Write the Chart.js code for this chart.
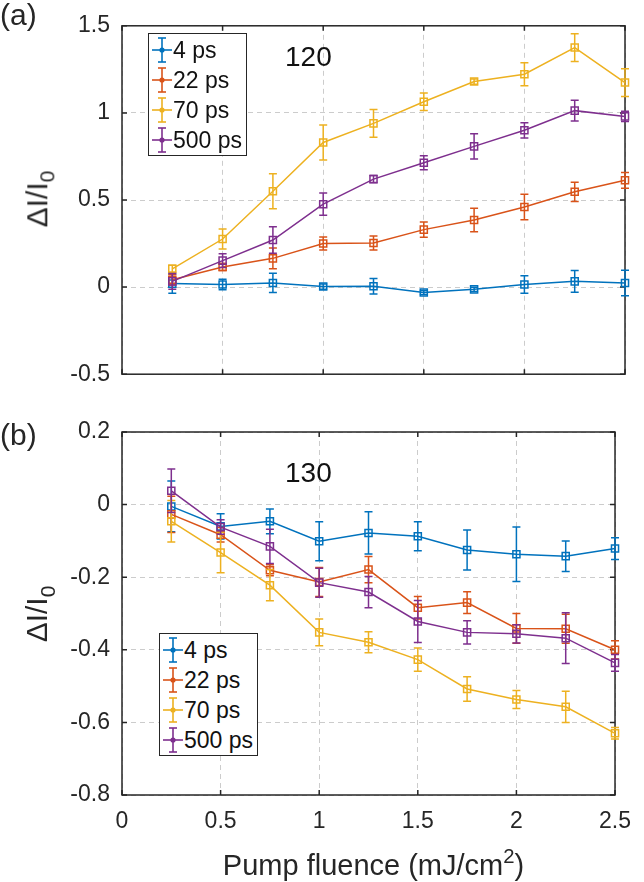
<!DOCTYPE html>
<html>
<head>
<meta charset="utf-8">
<script src="https://cdn.jsdelivr.net/npm/chart.js@4.4.0/dist/chart.umd.min.js"></script>
<style>
    body { margin: 0; width: 644px; height: 882px; position: relative; overflow: hidden; background: #fff;
           font-family: "Liberation Sans", Arial, sans-serif; color: #262626; }
    canvas { position: absolute; left: 0; }
    #chartA { top: 0; }
    #chartB { top: 400px; }
    .txt { position: absolute; white-space: nowrap; line-height: 1; }
    .panel { font-size: 30px; left: 0; }
    .temp { font-size: 28px; left: 285px; color: #111; }
    .ylabel { font-size: 30px; transform: translate(-50%, -50%) rotate(-90deg); }
    .ylabel sub { font-size: 0.7em; vertical-align: -0.35em; }
    .xlabel { font-size: 29px; left: 122px; width: 503px; text-align: center; top: 846px; }
    .xlabel sup { font-size: 0.7em; vertical-align: 0.6em; }
    .legend { position: absolute; background: #fff; border: 1.5px solid #262626; padding: 1px 4px 0 2px; }
    .legend .row { height: 30px; display: flex; align-items: center; font-size: 23px; color: #111; }
    .legend svg { flex: none; }
</style>
</head>
<body>
<canvas id="chartA" width="644" height="400"></canvas>
<canvas id="chartB" width="644" height="482"></canvas>

<div class="txt panel" style="top:0px">(a)</div>
<div class="txt panel" style="top:420px">(b)</div>
<div class="txt temp" style="top:43px">120</div>
<div class="txt temp" style="top:459px">130</div>
<div class="txt ylabel" style="left:40px; top:199px">ΔI/I<sub>0</sub></div>
<div class="txt ylabel" style="left:40px; top:614px">ΔI/I<sub>0</sub></div>
<div class="txt xlabel">Pump fluence (mJ/cm<sup>2</sup>)</div>
<div class="legend" id="legendA" style="left:148px; top:33px"></div>
<div class="legend" id="legendB" style="left:159px; top:633px"></div>

<script>
// ============================================
// DATA
// ============================================

// Pump fluence (mJ/cm^2), same for every series
const fluence = [0.25, 0.5, 0.75, 1, 1.25, 1.5, 1.75, 2, 2.25, 2.5];

const seriesLabels = ['4 ps', '22 ps', '70 ps', '500 ps'];
const seriesColors = ['#0072BD', '#D95319', '#EDB120', '#7E2F8E'];

// Axis ticks
const xTicks = [0, 0.5, 1, 1.5, 2, 2.5];
const yTicksA = [-0.5, 0, 0.5, 1, 1.5];
const yTicksB = [-0.8, -0.6, -0.4, -0.2, 0, 0.2];

// Panel (a) - 120
const a4ps      = [0.02, 0.015, 0.024, 0.003, 0.005, -0.031, -0.013, 0.015, 0.033, 0.024];
const a4psErr   = [0.055, 0.03, 0.055, 0.015, 0.045, 0.012, 0.012, 0.05, 0.062, 0.073];
const a22ps     = [0.042, 0.115, 0.165, 0.25, 0.253, 0.33, 0.385, 0.46, 0.547, 0.613];
const a22psErr  = [0.03, 0.02, 0.06, 0.037, 0.04, 0.044, 0.067, 0.073, 0.055, 0.045];
const a70ps     = [0.105, 0.276, 0.55, 0.83, 0.94, 1.064, 1.18, 1.222, 1.375, 1.174];
const a70psErr  = [0.02, 0.057, 0.1, 0.1, 0.08, 0.05, 0.015, 0.066, 0.08, 0.08];
const a500ps    = [0.033, 0.152, 0.27, 0.476, 0.62, 0.714, 0.808, 0.9, 1.013, 0.98];
const a500psErr = [0.045, 0.04, 0.076, 0.064, 0.02, 0.04, 0.073, 0.044, 0.06, 0.03];

// Panel (b) - 130
const b4ps      = [-0.005, -0.06, -0.046, -0.101, -0.078, -0.087, -0.125, -0.137, -0.142, -0.121];
const b4psErr   = [0.07, 0.035, 0.034, 0.054, 0.058, 0.04, 0.055, 0.075, 0.042, 0.03];
const b22ps     = [-0.027, -0.083, -0.181, -0.213, -0.179, -0.284, -0.27, -0.341, -0.342, -0.4];
const b22psErr  = [0.05, 0.02, 0.015, 0.04, 0.036, 0.031, 0.03, 0.041, 0.04, 0.025];
const b70ps     = [-0.046, -0.132, -0.222, -0.352, -0.379, -0.427, -0.508, -0.537, -0.557, -0.63];
const b70psErr  = [0.057, 0.056, 0.043, 0.037, 0.029, 0.032, 0.034, 0.025, 0.043, 0.016];
const b500ps    = [0.038, -0.062, -0.115, -0.215, -0.241, -0.322, -0.352, -0.356, -0.368, -0.436];
const b500psErr = [0.06, 0.02, 0.047, 0.04, 0.043, 0.058, 0.032, 0.025, 0.07, 0.023];

// ============================================
// PLUGINS
// ============================================

// Vertical error bars with caps, drawn right after each dataset
const errorBarPlugin = {
    id: 'errorBars',
    afterDatasetDraw(chart, args) {
        const ds = chart.data.datasets[args.index];
        if (!ds.errors) return;
        const ctx = chart.ctx;
        const yScale = chart.scales.y;
        ctx.save();
        ctx.strokeStyle = ds.borderColor;
        ctx.lineWidth = 1.5;
        args.meta.data.forEach((pt, i) => {
            const v = ds.data[i].y;
            const e = ds.errors[i];
            const top = yScale.getPixelForValue(v + e);
            const bot = yScale.getPixelForValue(v - e);
            ctx.beginPath();
            ctx.moveTo(pt.x, top); ctx.lineTo(pt.x, bot);
            ctx.moveTo(pt.x - 4, top); ctx.lineTo(pt.x + 4, top);
            ctx.moveTo(pt.x - 4, bot); ctx.lineTo(pt.x + 4, bot);
            ctx.stroke();
        });
        ctx.restore();
    }
};

// MATLAB style box with inward ticks on all four sides
const boxPlugin = {
    id: 'axesBox',
    beforeDatasetsDraw(chart) {
        const { ctx, chartArea: a, scales: { x, y } } = chart;
        ctx.save();
        ctx.strokeStyle = '#262626';
        ctx.lineWidth = 1.5;
        ctx.strokeRect(a.left, a.top, a.right - a.left, a.bottom - a.top);
        ctx.beginPath();
        x.ticks.forEach(t => {
            const px = x.getPixelForValue(t.value);
            ctx.moveTo(px, a.bottom); ctx.lineTo(px, a.bottom - 5);
            ctx.moveTo(px, a.top); ctx.lineTo(px, a.top + 5);
        });
        y.ticks.forEach(t => {
            const py = y.getPixelForValue(t.value);
            ctx.moveTo(a.left, py); ctx.lineTo(a.left + 5, py);
            ctx.moveTo(a.right, py); ctx.lineTo(a.right - 5, py);
        });
        ctx.stroke();
        ctx.restore();
    }
};

// ============================================
// CHART BUILDER
// ============================================

function makeDatasets(values, errors) {
    return values.map((vals, s) => ({
        label: seriesLabels[s],
        data: fluence.map((f, i) => ({ x: f, y: vals[i] })),
        errors: errors[s],
        borderColor: seriesColors[s],
        backgroundColor: seriesColors[s],
        borderWidth: 1.5,
        pointStyle: 'rect',
        pointRadius: 5,
        pointBorderWidth: 1.5,
        pointBackgroundColor: 'rgba(0,0,0,0)',
        pointBorderColor: seriesColors[s],
        tension: 0,
        clip: false,
        order: values.length - s   // later series on top, like MATLAB
    }));
}

function makeChart(canvasId, datasets, yTicks, pad, xHeight, showXLabels) {
    const ctx = document.getElementById(canvasId).getContext('2d');
    const gridOpts = { color: '#cccccc', lineWidth: 1, drawTicks: false };
    const borderOpts = { display: false, dash: [5, 4] };
    return new Chart(ctx, {
        type: 'line',
        data: { datasets: datasets },
        options: {
            responsive: false,
            animation: false,
            events: [],
            layout: { autoPadding: false, padding: pad },
            plugins: { legend: { display: false }, tooltip: { enabled: false } },
            scales: {
                x: {
                    type: 'linear',
                    min: xTicks[0],
                    max: xTicks[xTicks.length - 1],
                    afterBuildTicks: scale => { scale.ticks = xTicks.map(v => ({ value: v })); },
                    afterFit: scale => { scale.height = xHeight; },
                    grid: gridOpts,
                    border: borderOpts,
                    ticks: {
                        display: showXLabels,
                        padding: 13,
                        color: '#262626',
                        font: { size: 23 },
                        callback: v => String(v)
                    }
                },
                y: {
                    type: 'linear',
                    min: yTicks[0],
                    max: yTicks[yTicks.length - 1],
                    afterBuildTicks: scale => { scale.ticks = yTicks.map(v => ({ value: v })); },
                    afterFit: scale => { scale.width = 122; },
                    grid: gridOpts,
                    border: borderOpts,
                    ticks: {
                        padding: 12,
                        color: '#262626',
                        font: { size: 23 },
                        callback: v => String(v)
                    }
                }
            }
        },
        plugins: [boxPlugin, errorBarPlugin]
    });
}

// Build a legend box from the series labels / colors
function buildLegend(id) {
    const box = document.getElementById(id);
    seriesLabels.forEach((label, s) => {
        const c = seriesColors[s];
        const row = document.createElement('div');
        row.className = 'row';
        row.innerHTML =
            `<svg width="22" height="28" viewBox="0 0 22 28">
               <g stroke="${c}" stroke-width="1.6" fill="none">
                 <line x1="1" y1="14" x2="21" y2="14"/>
                 <line x1="11" y1="2" x2="11" y2="26"/>
                 <line x1="7" y1="2" x2="15" y2="2"/>
                 <line x1="7" y1="26" x2="15" y2="26"/>
               </g>
               <circle cx="11" cy="14" r="2.6" fill="${c}"/>
             </svg><span>${label}</span>`;
        box.appendChild(row);
    });
}

Chart.defaults.font.family = '"Liberation Sans", Arial, sans-serif';

const chartA = makeChart('chartA',
    makeDatasets([a4ps, a22ps, a70ps, a500ps], [a4psErr, a22psErr, a70psErr, a500psErr]),
    yTicksA, { top: 18, right: 19, left: 0, bottom: 0 }, 18, false);

const chartB = makeChart('chartB',
    makeDatasets([b4ps, b22ps, b70ps, b500ps], [b4psErr, b22psErr, b70psErr, b500psErr]),
    yTicksB, { top: 32, right: 19, left: 0, bottom: 0 }, 87, true);

buildLegend('legendA');
buildLegend('legendB');
</script>
</body>
</html>
